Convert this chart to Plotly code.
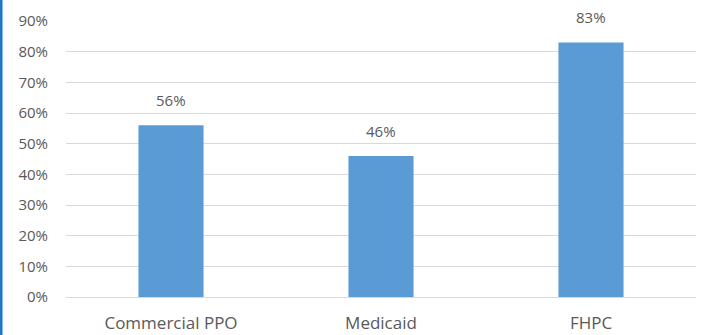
import plotly.graph_objects as go

categories = ["Commercial PPO", "Medicaid", "FHPC"]
values = [0.56, 0.46, 0.83]
labels = ["56%", "46%", "83%"]
tick_vals = [0, 0.1, 0.2, 0.3, 0.4, 0.5, 0.6, 0.7, 0.8, 0.9]
tick_text = ["0%", "10%", "20%", "30%", "40%", "50%", "60%", "70%", "80%", "90%"]

fig = go.Figure()
fig.add_trace(go.Bar(
    x=categories, y=values,
    marker=dict(color="#5b9bd5", line=dict(width=0)),
    width=0.31,
    hoverinfo="skip",
))

for c, v, t in zip(categories, values, labels):
    fig.add_annotation(x=c, y=v, text=t, showarrow=False, yanchor="bottom",
                       yshift=13, font=dict(size=15, color="#595959"))

fig.add_shape(type="line", xref="paper", yref="paper",
              x0=-66/630 + 0.0016, x1=-66/630 + 0.0016, y0=-38/276, y1=1 + 21/276,
              line=dict(color="#1f78c1", width=3))

fig.update_layout(
    width=708, height=335,
    margin=dict(l=66, r=12, t=21, b=38),
    paper_bgcolor="white", plot_bgcolor="white",
    font=dict(family="Open Sans, Liberation Sans, sans-serif", color="#595959", size=13),
    showlegend=False,
    bargap=0.69,
)
fig.update_xaxes(showgrid=False, showline=False, ticks="", automargin=False,
                 tickfont=dict(size=17, color="#595959"), ticklabelstandoff=14)
fig.update_yaxes(range=[0, 0.9], tickvals=tick_vals, ticktext=tick_text, automargin=False,
                 showgrid=True, gridcolor="#d9d9d9", gridwidth=1,
                 zeroline=True, zerolinecolor="#d9d9d9", zerolinewidth=1,
                 showline=False, ticks="", ticklabelstandoff=17,
                 tickfont=dict(size=15, color="#595959"))

fig.write_html("out.html")
